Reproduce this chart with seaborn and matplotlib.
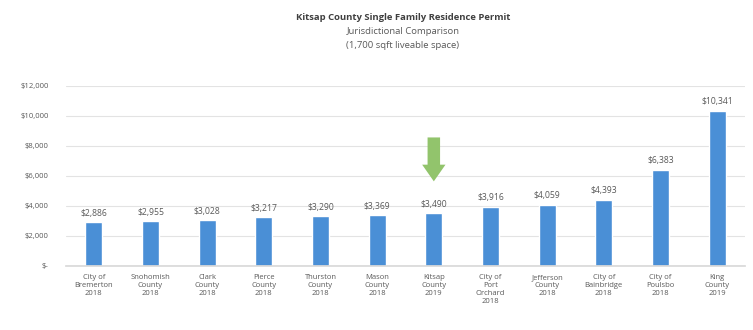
import numpy as np
import pandas as pd
import matplotlib.pyplot as plt
import seaborn as sns
from matplotlib.ticker import FuncFormatter

# --- data ---
jurisdictions = ['City of\nBremerton\n2018', 'Snohomish\nCounty\n2018', 'Clark\nCounty\n2018',
                 'Pierce\nCounty\n2018', 'Thurston\nCounty\n2018', 'Mason\nCounty\n2018',
                 'Kitsap\nCounty\n2019', 'City of\nPort\nOrchard\n2018', 'Jefferson\nCounty\n2018',
                 'City of\nBainbridge\n2018', 'City of\nPoulsbo\n2018', 'King\nCounty\n2019']
permit_cost = [2886, 2955, 3028, 3217, 3290, 3369, 3490, 3916, 4059, 4393, 6383, 10341]
highlight = 'Kitsap\nCounty\n2019'

df = pd.DataFrame({'jurisdiction': jurisdictions, 'cost': permit_cost})

sns.set_theme(style='white')
plt.rcParams['font.family'] = ['Open Sans', 'DejaVu Sans']

fig, ax = plt.subplots(figsize=(7.53, 3.30), dpi=100)
fig.subplots_adjust(left=0.087, right=0.99, top=0.74, bottom=0.195)

sns.barplot(data=df, x='jurisdiction', y='cost', color='#4a8fd6', width=0.3,
            saturation=1, ax=ax)

grey = '#595959'
ax.set_ylim(0, 12000)
ax.set_yticks(np.arange(0, 12001, 2000))
ax.yaxis.set_major_formatter(FuncFormatter(lambda v, p: '$-' if v == 0 else f'${v:,.0f}'))
ax.grid(axis='y', color='#e3e3e3', linewidth=0.8)
ax.set_axisbelow(True)
sns.despine(ax=ax, left=True, top=True, right=True)
ax.spines['bottom'].set_color('#d9d9d9')
ax.tick_params(axis='y', length=0, labelsize=5.5, colors=grey, pad=12)
ax.tick_params(axis='x', length=0, labelsize=5.5, colors=grey, pad=6)
ax.set_xlabel('')
ax.set_ylabel('')

# value labels
for i, v in enumerate(permit_cost):
    ax.text(i, v + 300, f'${v:,}', ha='center', va='bottom', fontsize=6.2, color=grey)

# green arrow above Kitsap
k = jurisdictions.index(highlight)
kv = permit_cost[k]
ax.annotate('', xy=(k, kv + 1950), xytext=(k, kv + 5250),
            arrowprops=dict(arrowstyle='simple,head_width=1.4,head_length=1.0,tail_width=0.75',
                            color='#92c46c', lw=0))

fig.text(0.535, 0.94, 'Kitsap County Single Family Residence Permit', ha='center',
         fontsize=6.8, fontweight='bold', color='#404040')
fig.text(0.535, 0.897, 'Jurisdictional Comparison', ha='center', fontsize=6.8, color=grey)
fig.text(0.535, 0.854, '(1,700 sqft liveable space)', ha='center', fontsize=6.8, color=grey)

plt.savefig('out.png', dpi=100)
